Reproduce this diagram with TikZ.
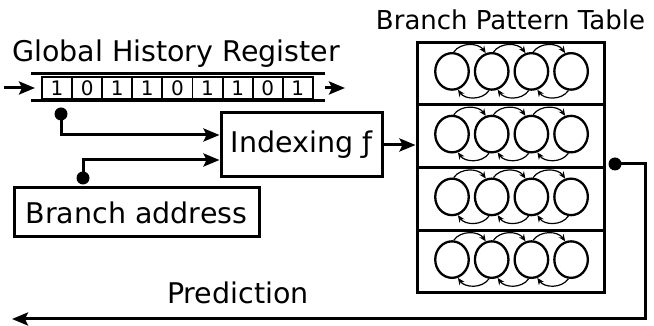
\documentclass[tikz,border=0pt]{standalone}
\usepackage{fontspec}
\setmainfont{DejaVu Sans}
\usetikzlibrary{arrows.meta, shapes.geometric}

\tikzset{
  big/.style={font=\fontsize{28.5}{32}\selectfont},
  title/.style={font=\fontsize{26}{30}\selectfont},
  box/.style={draw, line width=3pt, inner sep=0pt},
  cell/.style={draw, line width=1.9pt, minimum width=30.1pt, minimum height=22pt,
    inner sep=0pt, font=\fontsize{20}{21}\selectfont},
  wire/.style={line width=3pt},
  tip/.style={-{Stealth[length=16pt,width=13pt,inset=3pt]}},
  dotnode/.style={circle, fill, inner sep=0pt, minimum size=13pt},
  state/.style={ellipse, draw, line width=2.3pt, minimum width=33.5pt, minimum height=36.5pt, inner sep=0pt},
  arc/.style={line width=1.2pt, -{Stealth[length=7pt,width=6pt]}},
}

\begin{document}
\begin{tikzpicture}[x=1pt, y=1pt]
  \useasboundingbox (0,0) rectangle (654,326);

  % Global history register
  \node[big, anchor=base] (ghrtitle) at (176,264) {Global History Register};
  \coordinate (regL) at (31,238);
  \coordinate (regR) at (325,238);
  \draw[wire] (31,252) -- (325,252);
  \draw[wire] (31,225) -- (325,225);
  \foreach \b [count=\i from 0] in {1,0,1,1,0,1,1,0,1} {
    \node[cell] (bit\i) at ({42+30.1*\i+15.05},238) {\b};
  }
  \coordinate (inL) at (4,238);
  \coordinate (outR) at (345,238);
  \draw[wire, tip] (inL) -- (35,238);
  \draw[wire, tip] (regR) -- (outR);

  % Indexing function
  \node[box, big, minimum width=161pt, minimum height=64pt] (idx) at (301.5,181) {Indexing ƒ};

  % Branch address
  \node[box, big, minimum width=245pt, minimum height=49pt] (addr) at (136.5,113.5) {Branch address};

  % Register and address feeding the index function
  \node[dotnode] (d1) at (61,212) {};
  \draw[wire, tip] (d1.center) |- (idx.west |- 0,191);
  \node[dotnode] (d2) at (83,148) {};
  \draw[wire, tip] (d2.center) |- (idx.west |- 0,166);

  % Branch pattern table
  \node[title, anchor=base] (bpttitle) at (510.5,296) {Branch Pattern Table};
  \foreach \r/\yc in {1/252.6, 2/189.9, 3/127.1, 4/64.4} {
    \node[box, minimum width=187pt, minimum height=62.75pt] (row\r) at (510.5,\yc) {};
    \foreach \i in {0,...,3} {
      \node[state] (c\r-\i) at ({452+39.7*\i},\yc+2) {};
    }
    \foreach \i/\j in {0/1, 1/2, 2/3} {
      \draw[arc] (c\r-\i.85) to[out=55, in=125] (c\r-\j.108);
      \draw[arc] (c\r-\j.262) to[out=-125, in=-55] (c\r-\i.288);
    }
  }
  \draw[wire, tip] (idx.east) -- (row2.west |- idx.east);

  % Prediction output
  \node[dotnode] (d3) at (615,162) {};
  \coordinate (predEnd) at (12,7);
  \draw[wire, tip] (d3.center) -- (645,162) -- (645,7) -- (predEnd);
  \node[big, anchor=base] (pred) at (238,22) {Prediction};
\end{tikzpicture}
\end{document}
